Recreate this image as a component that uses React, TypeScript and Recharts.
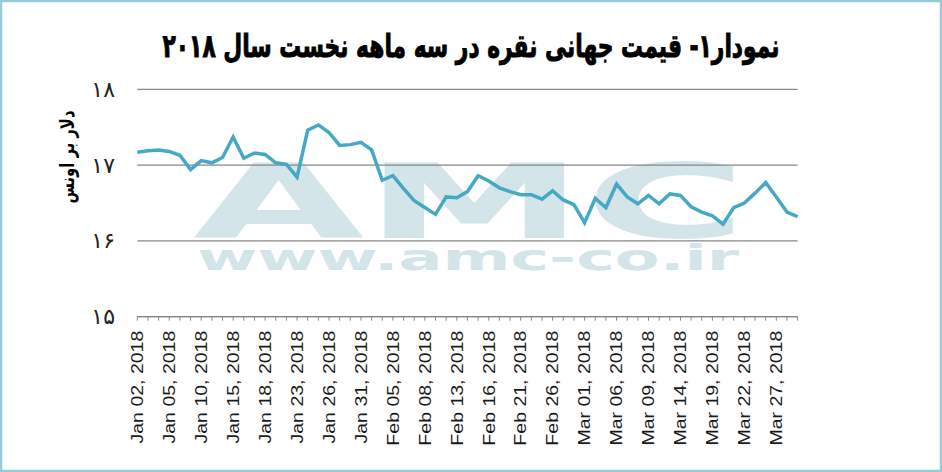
import React from 'react';
import { LineChart, Line, XAxis, YAxis, CartesianGrid } from 'recharts';

const LINE = '#45a8c4';
const GRID = '#868686';
const MARK = '#d4e5ea';

const dates = [
  'Jan 02, 2018', 'Jan 03, 2018', 'Jan 04, 2018', 'Jan 05, 2018', 'Jan 08, 2018', 'Jan 09, 2018',
  'Jan 10, 2018', 'Jan 11, 2018', 'Jan 12, 2018', 'Jan 15, 2018', 'Jan 16, 2018', 'Jan 17, 2018',
  'Jan 18, 2018', 'Jan 19, 2018', 'Jan 22, 2018', 'Jan 23, 2018', 'Jan 24, 2018', 'Jan 25, 2018',
  'Jan 26, 2018', 'Jan 29, 2018', 'Jan 30, 2018', 'Jan 31, 2018', 'Feb 01, 2018', 'Feb 02, 2018',
  'Feb 05, 2018', 'Feb 06, 2018', 'Feb 07, 2018', 'Feb 08, 2018', 'Feb 09, 2018', 'Feb 12, 2018',
  'Feb 13, 2018', 'Feb 14, 2018', 'Feb 15, 2018', 'Feb 16, 2018', 'Feb 19, 2018', 'Feb 20, 2018',
  'Feb 21, 2018', 'Feb 22, 2018', 'Feb 23, 2018', 'Feb 26, 2018', 'Feb 27, 2018', 'Feb 28, 2018',
  'Mar 01, 2018', 'Mar 02, 2018', 'Mar 05, 2018', 'Mar 06, 2018', 'Mar 07, 2018', 'Mar 08, 2018',
  'Mar 09, 2018', 'Mar 12, 2018', 'Mar 13, 2018', 'Mar 14, 2018', 'Mar 15, 2018', 'Mar 16, 2018',
  'Mar 19, 2018', 'Mar 20, 2018', 'Mar 21, 2018', 'Mar 22, 2018', 'Mar 23, 2018', 'Mar 26, 2018',
  'Mar 27, 2018', 'Mar 28, 2018', 'Mar 29, 2018',
];

// silver price, USD per ounce
const prices = [
  17.17, 17.19, 17.2, 17.18, 17.13, 16.94, 17.06, 17.03, 17.1, 17.37, 17.09, 17.16,
  17.14, 17.03, 17.01, 16.84, 17.46, 17.53, 17.43, 17.26, 17.27, 17.3, 17.2, 16.8,
  16.86, 16.69, 16.53, 16.44, 16.35, 16.58, 16.57, 16.65, 16.86, 16.79, 16.7, 16.65,
  16.61, 16.61, 16.55, 16.66, 16.54, 16.48, 16.24, 16.56, 16.44, 16.75, 16.58, 16.49,
  16.6, 16.49, 16.62, 16.6, 16.45, 16.38, 16.33, 16.22, 16.44, 16.5, 16.63, 16.77,
  16.58, 16.38, 16.32,
];

const yTicks = [15, 16, 17, 18];
const yTickLabels = ['۱۵', '۱۶', '۱۷', '۱۸'];

const TITLE = 'نمودار۱- قیمت جهانی نقره در سه ماهه نخست سال ۲۰۱۸';
const Y_LABEL = 'دلار بر اونس';

const data = dates.map((d, i) => ({ date: d, price: prices[i] }));

const DateTick = (props: any) => {
  const { x, y, payload } = props;
  const idx = payload.index ?? props.index;
  if (idx % 3 !== 0) return null;
  return (
    <text
      transform={`translate(${x},${y + 8}) rotate(-90) scale(1.22,1)`}
      textAnchor="end"
      dy="0.36em"
      fontSize={16}
      fontFamily="'Liberation Sans', Arial, sans-serif"
      fill="#1a1a1a"
    >
      {payload.value}
    </text>
  );
};

const PriceTick = (props: any) => {
  const { y, payload } = props;
  const label = yTickLabels[yTicks.indexOf(payload.value)];
  return (
    <text x={115} y={y} textAnchor="end" dominantBaseline="central" fontSize={22} fontFamily="'DejaVu Sans', sans-serif" fill="#222">
      {label}
    </text>
  );
};

export default function App() {
  return (
    <div style={{ position: 'absolute', left: 0, top: 0, width: 942, height: 472, background: '#fff' }}>
      <svg width={942} height={472} style={{ position: 'absolute', left: 0, top: 0 }}>
        <rect x={1} y={1} width={940} height={470} fill="#fff" stroke="#93cddb" strokeWidth={2.5} />
        <text
          x={471}
          y={57}
          textAnchor="middle"
          direction="rtl"
          fontSize={32}
          fontWeight="bold"
          fontFamily="'DejaVu Sans', sans-serif"
          fill="#000"
          stroke="#000"
          strokeWidth={1}
          textLength={617}
          lengthAdjust="spacingAndGlyphs"
        >
          {TITLE}
        </text>
        <text
          transform="translate(74,157) rotate(-90)"
          textAnchor="middle"
          direction="rtl"
          fontSize={20}
          fontWeight="bold"
          fontFamily="'DejaVu Sans', sans-serif"
          fill="#000"
          textLength={93}
          lengthAdjust="spacingAndGlyphs"
        >
          {Y_LABEL}
        </text>
        <text
          x={193}
          y={238}
          fontSize={104}
          fontWeight="bold"
          fontFamily="'DejaVu Sans', sans-serif"
          fill={MARK}
          textLength={554}
          lengthAdjust="spacingAndGlyphs"
        >
          AMC
        </text>
        <text
          x={197}
          y={270}
          fontSize={35}
          fontWeight="bold"
          fontFamily="'DejaVu Sans', sans-serif"
          fill={MARK}
          textLength={542}
          lengthAdjust="spacingAndGlyphs"
        >
          www.amc-co.ir
        </text>
      </svg>
      <LineChart
        width={942}
        height={472}
        data={data}
        margin={{ top: 89.3, right: 144.4, bottom: 15.3, left: 0 }}
        style={{ position: 'absolute', left: 0, top: 0 }}
      >
        <CartesianGrid vertical={false} stroke={GRID} strokeWidth={1.2} />
        <XAxis
          dataKey="date"
          interval={0}
          height={140}
          axisLine={{ stroke: GRID, strokeWidth: 1.2 }}
          tickLine={{ stroke: GRID }}
          tickSize={4}
          tick={<DateTick />}
        />
        <YAxis
          width={137.3}
          domain={[15, 18]}
          ticks={yTicks}
          axisLine={false}
          tickLine={false}
          tick={<PriceTick />}
        />
        <Line
          type="linear"
          dataKey="price"
          stroke={LINE}
          strokeWidth={3.5}
          dot={false}
          isAnimationActive={false}
        />
      </LineChart>
    </div>
  );
}
